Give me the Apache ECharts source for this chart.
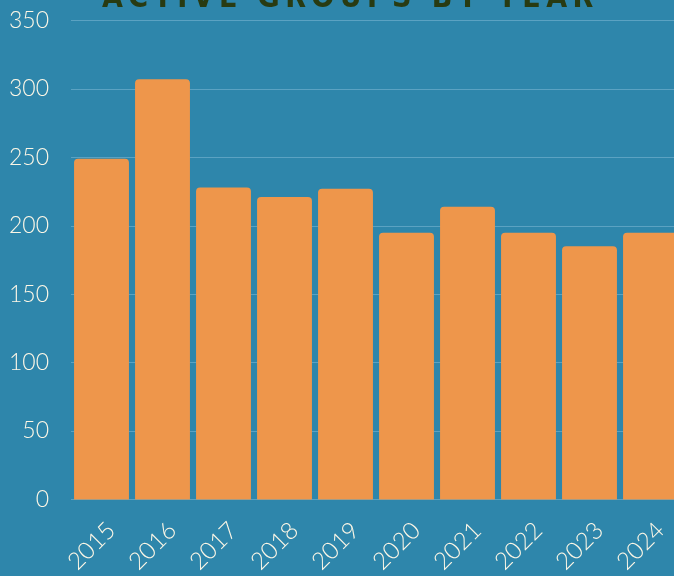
<!DOCTYPE html>
<html>
<head>
<meta charset="utf-8">
<script src="https://cdn.jsdelivr.net/npm/echarts@6/dist/echarts.min.js"></script>
<style>
html,body{margin:0;padding:0;background:#2e86ab;overflow:hidden;width:674px;height:576px;}
#chart{width:681px;height:576px;}
</style>
</head>
<body>
<div id="chart"></div>
<script>
const titleText = "ACTIVE GROUPS BY YEAR";
const years = ["2015","2016","2017","2018","2019","2020","2021","2022","2023","2024"];
const activeGroups = [249, 307, 228, 221, 227, 195, 214, 195, 185, 195];
const yTicks = [0, 50, 100, 150, 200, 250, 300, 350];

const spaced = titleText.split(" ").map(w => w.split("").join("\u2009")).join("\u2009 \u2009");
const chart = echarts.init(document.getElementById('chart'));
chart.setOption({
  backgroundColor: '#2e86ab',
  animation: false,
  title: {
    text: spaced,
    left: 97,
    top: -21,
    textStyle: {
      color: '#283b12',
      fontFamily: 'DejaVu Sans Condensed',
      fontWeight: 'bold',
      fontSize: 30
    }
  },
  grid: { left: 71, right: 0, top: 20.5, bottom: 76.5, containLabel: false, outerBoundsMode: 'none' },
  xAxis: {
    type: 'category',
    data: years,
    axisLine: { show: false },
    axisTick: { show: false },
    axisLabel: {
      color: '#fdf7e6',
      fontFamily: 'Lato',
      fontWeight: 300,
      fontSize: 24,
      lineHeight: 28,
      rotate: 45,
      margin: 17,
      interval: 0,
      formatter: v => ' \n' + v
    }
  },
  yAxis: {
    type: 'value',
    min: yTicks[0],
    max: yTicks[yTicks.length - 1],
    interval: 50,
    axisLine: { show: false },
    axisTick: { show: false },
    axisLabel: {
      color: '#fdf7e6',
      fontFamily: 'Lato',
      fontWeight: 300,
      fontSize: 23,
      margin: 22
    },
    splitLine: { lineStyle: { color: '#5ba2c2', width: 1 } }
  },
  series: [{
    type: 'bar',
    data: activeGroups,
    barCategoryGap: '10%',
    itemStyle: { color: '#ee964b', borderRadius: [4, 4, 0, 0] }
  }]
});
</script>
</body>
</html>
